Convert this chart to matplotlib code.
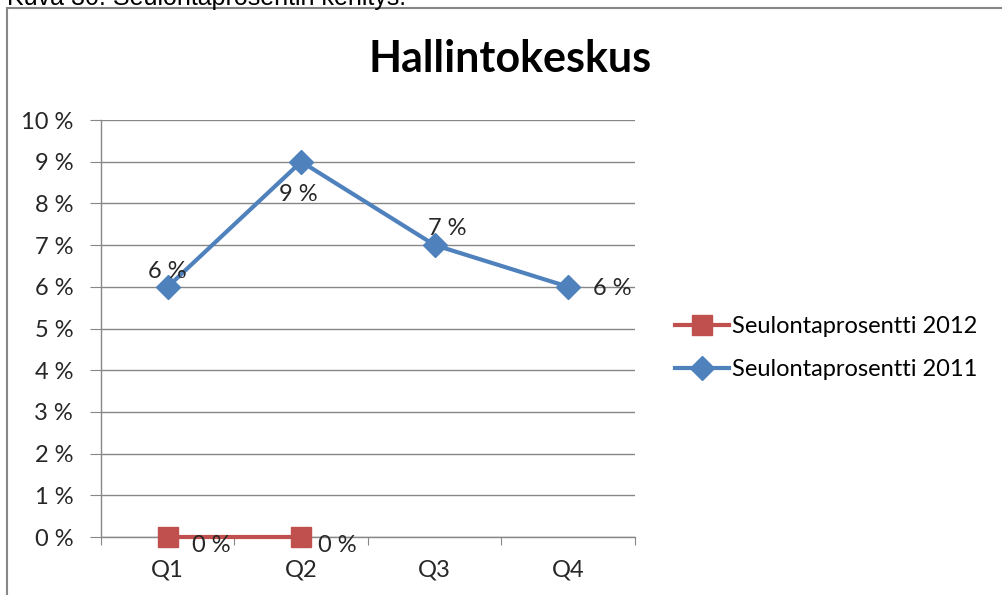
import matplotlib
matplotlib.use("Agg")
import matplotlib.pyplot as plt
from matplotlib.patches import Rectangle
from matplotlib.ticker import FuncFormatter

plt.rcParams['font.family'] = ['Lato', 'DejaVu Sans']

quarters = ["Q1", "Q2", "Q3", "Q4"]
pct_2012 = [0.0, 0.0]
pct_2011 = [0.06, 0.09, 0.07, 0.06]
labels_2012 = ["0 %", "0 %"]
labels_2011 = ["6 %", "9 %", "7 %", "6 %"]

blue = "#4F81BD"
red = "#C0504D"
grid_col = "#878787"
txt_col = "#262626"
fs = 17

W, H = 1003, 595
fig = plt.figure(figsize=(W / 100, H / 100), dpi=100)

# caption of the page, cut off at the top
fig.text(7 / W, 1 - 5 / H, "Kuva 30. Seulontaprosentin kehitys.", fontsize=18,
         family="Liberation Sans", va="baseline", ha="left")

# chart frame
fig.patches.append(Rectangle((7 / W, -0.05), 1.2, 1 - 8 / H + 0.05,
                             transform=fig.transFigure, fill=False,
                             edgecolor=grid_col, linewidth=1.5))

ax = fig.add_axes([101 / W, 1 - 537 / H, (635 - 101) / W, (537 - 120) / H])

x = list(range(len(quarters)))
ax.plot(x[:len(pct_2012)], pct_2012, color=red, lw=3, marker="s", ms=15,
        label="Seulontaprosentti 2012", zorder=4, clip_on=False)
ax.plot(x, pct_2011, color=blue, lw=3, marker="D", ms=12,
        label="Seulontaprosentti 2011", zorder=4, clip_on=False)

# data labels
offs_2011 = [(0, 15), (-3, -33), (13, 17), (44, -2)]
for i, (v, t) in enumerate(zip(pct_2011, labels_2011)):
    ax.annotate(t, (x[i], v), xytext=offs_2011[i], textcoords="offset pixels",
                ha="center", va="center", fontsize=fs, color=txt_col, zorder=5)
offs_2012 = [(44, -8), (36, -8)]
for i, (v, t) in enumerate(zip(pct_2012, labels_2012)):
    ax.annotate(t, (x[i], v), xytext=offs_2012[i], textcoords="offset pixels",
                ha="center", va="center", fontsize=fs, color=txt_col, zorder=5)

ax.set_xlim(-0.5, len(quarters) - 0.5)
ax.set_ylim(0, 0.10)
ax.set_yticks([i / 100 for i in range(11)])
ax.yaxis.set_major_formatter(FuncFormatter(lambda v, p: f"{round(v * 100)} %"))
ax.grid(axis="y", color=grid_col, lw=1)
ax.set_axisbelow(True)

ax.set_xticks([i - 0.5 for i in range(len(quarters) + 1)])
ax.set_xticklabels([])
ax.set_xticks(x, minor=True)
ax.set_xticklabels(quarters, minor=True)
ax.tick_params(axis="x", which="major", length=6, color=grid_col, direction="out")
ax.tick_params(axis="x", which="minor", length=0, pad=16, labelsize=fs, labelcolor=txt_col)
ax.tick_params(axis="y", length=8, color=grid_col, direction="out", pad=12,
               labelsize=fs, labelcolor=txt_col)

for s in ["top", "right"]:
    ax.spines[s].set_visible(False)
for s in ["left", "bottom"]:
    ax.spines[s].set_color(grid_col)
    ax.spines[s].set_linewidth(1)

fig.text(510 / W, 1 - 72 / H, "Hallintokeskus", fontsize=31, fontweight="bold",
         ha="center", va="baseline")

fig.legend(loc="center left", bbox_to_anchor=(675 / W, 1 - 348 / H), frameon=False,
           fontsize=fs, handlelength=2.3, handletextpad=0.1, labelspacing=0.92,
           borderpad=0, borderaxespad=0)

fig.savefig("out.png", dpi=100)
